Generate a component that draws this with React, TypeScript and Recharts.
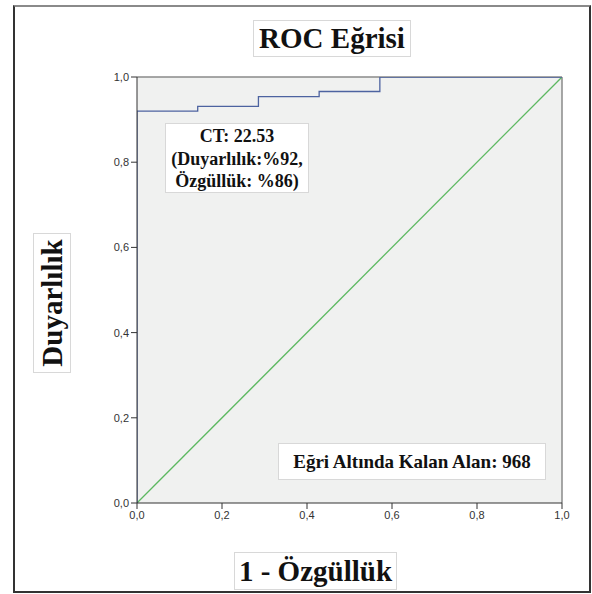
import { ComposedChart, Line, XAxis, YAxis, CartesianGrid, ReferenceLine } from "recharts";

// 1 - specificity at each step, and sensitivity
const fpr = [0, 0, 1 / 7, 2 / 7, 3 / 7, 4 / 7, 1];
const tpr = [0, 0.92, 0.931, 0.954, 0.966, 1, 1];
const refX = [0, 1];
const refY = [0, 1];
const ticks = [0, 0.2, 0.4, 0.6, 0.8, 1];

const rocData = fpr.map((x, i) => ({ x, y: tpr[i] }));
const refData = refX.map((x, i) => ({ x, y: refY[i] }));

const serif = "'Liberation Serif', 'Times New Roman', serif";
const sans = "'Liberation Sans', Arial, sans-serif";

const fmt = (v: number) => v.toFixed(1).replace(".", ",");

const boxStyle = (left: number, top: number, width: number, height: number): React.CSSProperties => ({
  position: "absolute",
  left,
  top,
  width,
  height,
  boxSizing: "border-box",
  background: "#fff",
  border: "1px solid #d8d8d8",
  fontFamily: serif,
  fontWeight: "bold",
  color: "#111",
  textAlign: "center",
});

export default function App() {
  return (
    <div style={{ position: "absolute", left: 0, top: 0, width: 592, height: 594, background: "#fff" }}>
      <div
        style={{
          position: "absolute",
          left: 13,
          top: 5,
          width: 578,
          height: 588,
          boxSizing: "border-box",
          border: "2px solid #333",
          borderTopColor: "#8a8a8a",
        }}
      />
      <div style={{ position: "absolute", left: 0, top: 0 }}>
        <ComposedChart width={592} height={594} margin={{ top: 77, right: 30, bottom: 61, left: 77 }}>
          <CartesianGrid fill="#f0f1f0" stroke="none" horizontal={false} vertical={false} />
          <XAxis
            type="number"
            dataKey="x"
            domain={[0, 1]}
            ticks={ticks}
            tickFormatter={fmt}
            allowDataOverflow
            height={30}
            tickSize={6}
            tickMargin={2}
            stroke="#333"
            tick={{ fontSize: 11, fontFamily: sans, fill: "#333" }}
          />
          <YAxis
            type="number"
            dataKey="y"
            domain={[0, 1]}
            ticks={ticks}
            tickFormatter={fmt}
            allowDataOverflow
            width={60}
            tickSize={6}
            tickMargin={2}
            stroke="#333"
            tick={{ fontSize: 11, fontFamily: sans, fill: "#333" }}
          />
          <ReferenceLine y={1} stroke="#8a8a8a" strokeWidth={1.5} />
          <ReferenceLine x={1} stroke="#8a8a8a" strokeWidth={1.5} />
          <Line
            data={refData}
            dataKey="y"
            type="linear"
            stroke="#5cb860"
            strokeWidth={1.3}
            dot={false}
            isAnimationActive={false}
          />
          <Line
            data={rocData}
            dataKey="y"
            type="stepAfter"
            stroke="#4d63a0"
            strokeWidth={1.3}
            dot={false}
            isAnimationActive={false}
          />
        </ComposedChart>
      </div>

      <div style={{ ...boxStyle(253, 20, 158, 37), fontSize: 29, lineHeight: "35px" }}>ROC Eğrisi</div>

      <div style={boxStyle(33, 233, 38, 140)}>
        <div
          style={{
            position: "absolute",
            left: "50%",
            top: "50%",
            transform: "translate(-50%, -50%) rotate(-90deg)",
            whiteSpace: "nowrap",
            fontSize: 29,
            lineHeight: "34px",
          }}
        >
          Duyarlılık
        </div>
      </div>

      <div style={{ ...boxStyle(234, 552, 163, 38), fontSize: 29, lineHeight: "36px" }}>1 - Özgüllük</div>

      <div style={{ ...boxStyle(165, 123, 144, 70), fontSize: 18, lineHeight: "22.5px", paddingTop: 1 }}>
        CT: 22.53
        <br />
        (Duyarlılık:%92,
        <br />
        Özgüllük: %86)
      </div>

      <div style={{ ...boxStyle(278, 443, 268, 37), fontSize: 19, lineHeight: "35px" }}>
        Eğri Altında Kalan Alan: 968
      </div>
    </div>
  );
}
